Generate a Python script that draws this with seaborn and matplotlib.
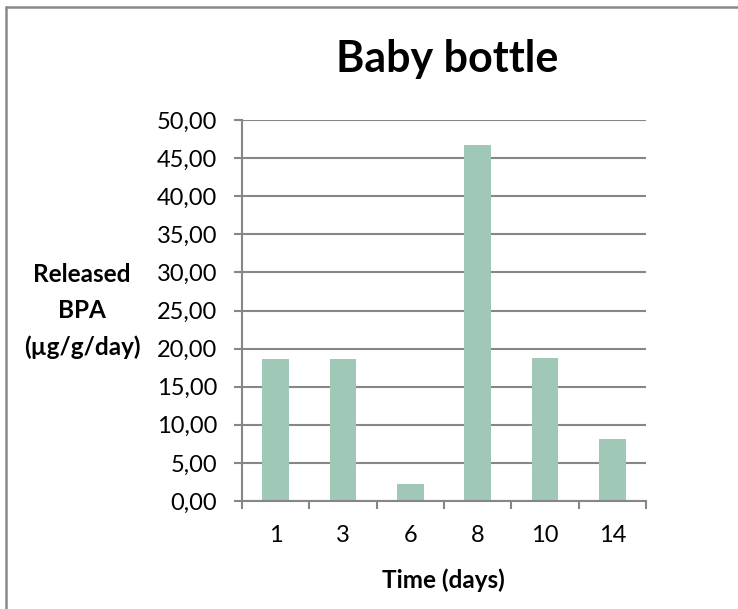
import matplotlib
matplotlib.use("Agg")
import matplotlib.pyplot as plt
from matplotlib.lines import Line2D
import seaborn as sns
import pandas as pd

days = ["1", "3", "6", "8", "10", "14"]
released_bpa = [18.70, 18.57, 2.19, 46.67, 18.74, 8.10]
y_ticks = [0, 5, 10, 15, 20, 25, 30, 35, 40, 45, 50]

title = "Baby bottle"
x_label = "Time (days)"
y_label = "Released\nBPA\n(µg/g/day)"

bar_color = "#A0C8B6"
grid_color = "#868686"

sns.set_theme(style="white")
plt.rcParams["font.family"] = ["Lato", "DejaVu Sans"]

df = pd.DataFrame({"day": days, "bpa": released_bpa})

fig = plt.figure(figsize=(7.38, 6.09), dpi=100)
ax = fig.add_axes([242 / 738, 1 - 501 / 609, (646 - 242) / 738, (501 - 120) / 609])

sns.barplot(data=df, x="day", y="bpa", order=days, color=bar_color,
            saturation=1, width=0.40, ax=ax, edgecolor="none")

ax.set_ylim(0, 50)
ax.set_xlim(-0.5, len(days) - 0.5)
ax.set_yticks(y_ticks)
ax.set_yticklabels([f"{v:.2f}".replace(".", ",") for v in y_ticks], fontsize=17, color="#000000")
ax.yaxis.grid(True, color=grid_color, linewidth=1.5)
ax.set_axisbelow(True)

# category boundary ticks (major, unlabeled) and centered labels (minor)
ax.set_xticks([i - 0.5 for i in range(len(days) + 1)])
ax.set_xticklabels([])
ax.set_xticks(list(range(len(days))), minor=True)
ax.set_xticklabels(days, minor=True, fontsize=17, color="#000000")
ax.tick_params(axis="x", which="major", direction="out", length=6, width=1.5, color=grid_color, bottom=True)
ax.tick_params(axis="x", which="minor", length=0, pad=17)
ax.tick_params(axis="y", direction="out", length=6, width=1.5, color=grid_color, left=True, pad=12)

for s in ["top", "right"]:
    ax.spines[s].set_visible(False)
for s in ["left", "bottom"]:
    ax.spines[s].set_color(grid_color)
    ax.spines[s].set_linewidth(1.5)

ax.set_xlabel("")
ax.set_ylabel("")

fig.text(447 / 738, 1 - 72 / 609, title, ha="center", va="baseline",
         fontsize=31, fontweight="bold", color="#000000")
fig.text(82 / 738, 1 - 311 / 609, y_label, ha="center", va="center",
         multialignment="center", fontsize=17.5, fontweight="bold",
         linespacing=1.67, color="#000000")
fig.text(443 / 738, 1 - 580 / 609, x_label, ha="center", va="center",
         fontsize=17.5, fontweight="bold", color="#000000")

# outer chart frame (left and top edges visible)
fig.add_artist(Line2D([6 / 738, 6 / 738], [0, 1 - 6.5 / 609], transform=fig.transFigure,
                      color="#8a8a8a", linewidth=1.8))
fig.add_artist(Line2D([6 / 738, 1], [1 - 6.5 / 609, 1 - 6.5 / 609], transform=fig.transFigure,
                      color="#8a8a8a", linewidth=1.8))

fig.savefig("out.png", dpi=100)
